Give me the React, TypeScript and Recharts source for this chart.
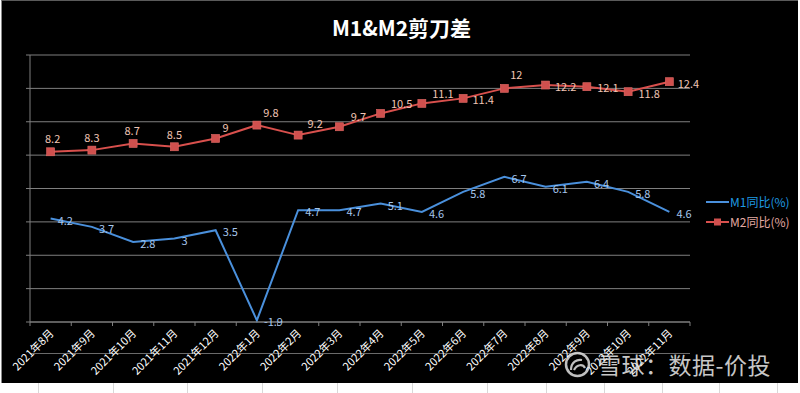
import React from "react";
import { LineChart, Line, XAxis, YAxis, CartesianGrid, Legend, LabelList } from "recharts";

const months = [
  "2021年8月", "2021年9月", "2021年10月", "2021年11月", "2021年12月",
  "2022年1月", "2022年2月", "2022年3月", "2022年4月", "2022年5月", "2022年6月",
  "2022年7月", "2022年8月", "2022年9月", "2022年10月", "2022年11月",
];
const m1Yoy = [4.2, 3.7, 2.8, 3, 3.5, -1.9, 4.7, 4.7, 5.1, 4.6, 5.8, 6.7, 6.1, 6.4, 5.8, 4.6];
const m2Yoy = [8.2, 8.3, 8.7, 8.5, 9, 9.8, 9.2, 9.7, 10.5, 11.1, 11.4, 12, 12.2, 12.1, 11.8, 12.4];
const yTicks = [-2, 0, 2, 4, 6, 8, 10, 12, 14];

const data = months.map((month, i) => ({ month, m1: m1Yoy[i], m2: m2Yoy[i] }));

// label nudges for M2 (excel placed them by hand-ish)
const m2LabelNudge = [
  [2, -14], [0, -13], [-1, -13], [0, -13], [10, -11], [14, -13], [17, -12], [19, -11],
  [21, -10], [21, -10], [20, 1], [12, -14], [20, 1], [21, 0], [21, 1], [19, 1],
];

const W = 800;
const H = 383;
const margin = { top: 55, right: 110, bottom: 60, left: 29 };
const plotW = W - 30 - margin.right;
const half = plotW / months.length / 2;

const M1_LINE = "#4a90dc";
const M2_LINE = "#d9504d";
const GRID = "#7f7f7f";

const pos = (p: any) => ({
  x: p.x ?? p.viewBox?.x ?? 0,
  y: p.y ?? p.viewBox?.y ?? 0,
});

const M1Label = (props: any) => {
  const { x, y } = pos(props);
  return (
    <text x={x + 7} y={y + 1} fill="#a6c6ec" fontSize={11} textAnchor="start" dominantBaseline="central">
      {props.value}
    </text>
  );
};

const M2Label = (props: any) => {
  const { x, y } = pos(props);
  const [dx, dy] = m2LabelNudge[props.index] || [0, -12];
  return (
    <text x={x + dx} y={y + dy} fill="#f0c4b4" fontSize={11} textAnchor="middle" dominantBaseline="central">
      {props.value}
    </text>
  );
};

const SquareDot = (props: any) => {
  const { cx, cy, index } = props;
  if (cx == null || cy == null) return null;
  return <rect key={index} x={cx - 4} y={cy - 4} width={8} height={8} fill="#d0504e" stroke="#e26a66" strokeWidth={0.6} />;
};

const MonthTick = (props: any) => {
  const { x, y, payload, index } = props;
  const last = index === months.length - 1;
  return (
    <g>
      <line x1={x - half} y1={y} x2={x - half} y2={y + 4} stroke={GRID} />
      {last && <line x1={x + half} y1={y} x2={x + half} y2={y + 4} stroke={GRID} />}
      <text
        x={x + 4}
        y={y + 12}
        transform={`rotate(-45, ${x + 4}, ${y + 12})`}
        textAnchor="end"
        fill="#ffffff"
        fontSize={11}
      >
        {payload.value}
      </text>
    </g>
  );
};

const NoTick = () => null;

const LegendBox = () => (
  <div style={{ fontSize: 12, lineHeight: "20px" }}>
    <div style={{ display: "flex", alignItems: "center", color: "#1f9be3" }}>
      <svg width={24} height={10}>
        <line x1={0} y1={5} x2={23} y2={5} stroke={M1_LINE} strokeWidth={2} />
      </svg>
      M1同比(%)
    </div>
    <div style={{ display: "flex", alignItems: "center", color: "#e4aaa2" }}>
      <svg width={24} height={10}>
        <line x1={0} y1={5} x2={23} y2={5} stroke={M2_LINE} strokeWidth={2} />
        <rect x={8} y={1.5} width={7} height={7} fill="#d0504e" />
      </svg>
      M2同比(%)
    </div>
  </div>
);

const columnLines = [38, 113, 187, 262, 337, 412, 487, 546, 604, 662, 719, 777];

export default function App() {
  return (
    <div
      style={{
        position: "absolute",
        left: 0,
        top: 0,
        width: 800,
        height: 393,
        background: "#ffffff",
        fontFamily: "'Noto Sans CJK SC', 'Noto Sans', sans-serif",
        overflow: "hidden",
      }}
    >
      <svg width={800} height={10} style={{ position: "absolute", left: 0, top: 383 }}>
        {columnLines.map((cx) => (
          <line key={cx} x1={cx + 0.5} y1={0} x2={cx + 0.5} y2={10} stroke="#d8d8d8" />
        ))}
      </svg>
      <div
        style={{
          position: "absolute",
          left: 1,
          top: 0,
          width: 797,
          height: 383,
          background: "#000000",
          borderLeft: "1px solid #8a8a8a",
          borderTop: "1px solid #5a5a5a",
          boxSizing: "border-box",
        }}
      />
      {/* faint sheet border showing through the chart */}
      <div style={{ position: "absolute", left: 30, top: 353, width: 660, height: 1, background: "#6a6a6a" }} />
      <div style={{ position: "absolute", left: 0, top: 0 }}>
        <LineChart width={W} height={H} data={data} margin={margin}>
          <CartesianGrid vertical={false} stroke={GRID} strokeWidth={1} />
          <XAxis
            dataKey="month"
            height={1}
            padding={{ left: half, right: half }}
            interval={0}
            tickLine={false}
            tickSize={0}
            tickMargin={0}
            axisLine={{ stroke: GRID }}
            tick={<MonthTick />}
          />
          <YAxis
            width={1}
            domain={[-2, 14]}
            ticks={yTicks}
            interval={0}
            tick={<NoTick />}
            tickSize={4}
            tickMargin={0}
            tickLine={{ stroke: GRID }}
            axisLine={{ stroke: GRID }}
          />
          <Legend
            layout="horizontal"
            verticalAlign="middle"
            align="center"
            content={<LegendBox />}
            wrapperStyle={{ position: "absolute", left: 706, top: 192, width: 92 }}
          />
          <Line
            name="M1同比(%)"
            dataKey="m1"
            stroke={M1_LINE}
            strokeWidth={2}
            dot={false}
            isAnimationActive={false}
          >
            <LabelList dataKey="m1" content={<M1Label />} />
          </Line>
          <Line
            name="M2同比(%)"
            dataKey="m2"
            stroke={M2_LINE}
            strokeWidth={2}
            dot={<SquareDot />}
            isAnimationActive={false}
          >
            <LabelList dataKey="m2" content={<M2Label />} />
          </Line>
        </LineChart>
      </div>
      <div
        style={{
          position: "absolute",
          left: 0,
          top: 14,
          width: 803,
          textAlign: "center",
          color: "#ffffff",
          fontSize: 21,
          fontWeight: 700,
          lineHeight: "26px",
        }}
      >
        M1&amp;M2剪刀差
      </div>
      <svg width={30} height={30} style={{ position: "absolute", left: 563, top: 350 }}>
        <circle cx={14.5} cy={14.5} r={11.5} fill="none" stroke="rgba(225,225,225,0.85)" strokeWidth={2.5} />
        <path d="M8 20 C 8 12, 14 9, 19 10 M 11 20 C 14 14, 20 14, 22 18" fill="none" stroke="rgba(225,225,225,0.85)" strokeWidth={2.2} />
      </svg>
      <div
        style={{
          position: "absolute",
          left: 598,
          top: 349,
          color: "rgba(228,228,228,0.88)",
          fontSize: 23,
          letterSpacing: 0.5,
          lineHeight: "30px",
          whiteSpace: "nowrap",
        }}
      >
        雪球：数据-价投
      </div>
    </div>
  );
}
